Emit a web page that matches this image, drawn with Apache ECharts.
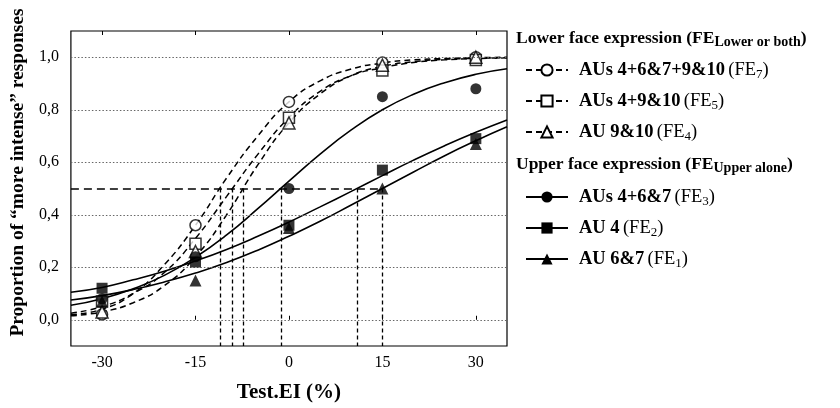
<!DOCTYPE html>
<html>
<head>
<meta charset="utf-8">
<script src="https://cdn.jsdelivr.net/npm/echarts@6/dist/echarts.min.js"></script>
<style>
  html, body { margin: 0; padding: 0; background: #fff; }
  #chart { width: 840px; height: 408px; }
</style>
</head>
<body>
<div id="chart"></div>
<script>
// observed proportions at each Test.EI level
const xPoints = [-30, -15, 0, 15, 30]
const fe7Points = [0.02, 0.36, 0.83, 0.98, 1.0]
const fe5Points = [0.07, 0.29, 0.77, 0.95, 0.99]
const fe4Points = [0.03, 0.26, 0.75, 0.97, 1.0]
const fe3Points = [0.08, 0.24, 0.50, 0.85, 0.88]
const fe2Points = [0.12, 0.22, 0.36, 0.57, 0.69]
const fe1Points = [0.07, 0.15, 0.35, 0.50, 0.67]

// fitted curves
const xCurve = [-35, -30, -25, -20, -15, -10, -5, 0, 5, 10, 15, 20, 25, 30, 35]
const fe7Curve = [0.02, 0.04, 0.10, 0.21, 0.36, 0.54, 0.70, 0.83, 0.91, 0.955, 0.978, 0.99, 0.995, 0.998, 1.0]
const fe5Curve = [0.025, 0.05, 0.10, 0.18, 0.31, 0.47, 0.63, 0.77, 0.87, 0.93, 0.96, 0.98, 0.99, 0.995, 0.998]
const fe4Curve = [0.015, 0.03, 0.065, 0.13, 0.24, 0.40, 0.59, 0.75, 0.86, 0.93, 0.965, 0.983, 0.992, 0.996, 0.998]
const fe3Curve = [0.055, 0.08, 0.118, 0.169, 0.238, 0.323, 0.423, 0.528, 0.631, 0.723, 0.80, 0.859, 0.903, 0.935, 0.956]
const fe2Curve = [0.105, 0.123, 0.152, 0.185, 0.224, 0.268, 0.318, 0.372, 0.43, 0.489, 0.549, 0.608, 0.663, 0.714, 0.761]
const fe1Curve = [0.075, 0.092, 0.115, 0.144, 0.178, 0.218, 0.265, 0.318, 0.375, 0.437, 0.50, 0.563, 0.625, 0.682, 0.735]

// 50% points (PSE) for each expression
const pseValues = [-11.1, -9.1, -7.3, -1.3, 10.9, 15]

const xTicks = [-30, -15, 0, 15, 30]
const yTicks = [0, 0.2, 0.4, 0.6, 0.8, 1.0]

const legendText = {
  FE7: ['AUs 4+6&7+9&10', '7'],
  FE5: ['AUs 4+9&10', '5'],
  FE4: ['AU 9&10', '4'],
  FE3: ['AUs 4+6&7', '3'],
  FE2: ['AU 4', '2'],
  FE1: ['AU 6&7', '1']
}

const serif = 'Liberation Serif'
const chart = echarts.init(document.getElementById('chart'))

function zip(xs, ys) {
  return xs.map((x, i) => [x, ys[i]])
}

function curve(name, ys, dashed, symbol) {
  return {
    name: name,
    type: 'line',
    data: zip(xCurve, ys),
    smooth: true,
    symbol: symbol,
    symbolSize: 11,
    showSymbol: false,
    itemStyle: { color: '#000' },
    lineStyle: dashed
      ? { color: '#000', width: 1.5, type: [6, 4] }
      : { color: '#000', width: 1.6, type: 'solid' },
    silent: true,
    z: 3
  }
}

function points(name, ys, symbol, open) {
  return {
    name: name,
    type: 'scatter',
    data: zip(xPoints, ys),
    symbol: symbol,
    symbolSize: symbol === 'triangle' ? 12 : 11,
    itemStyle: open
      ? { color: '#fff', borderColor: '#000', borderWidth: 1.5 }
      : { color: '#000', borderColor: '#000', borderWidth: 0 },
    silent: true,
    z: open ? 4 : 5
  }
}

const legendRich = {
  b: { fontFamily: serif, fontWeight: 'bold', fontSize: 18.5, color: '#000' },
  n: { fontFamily: serif, fontSize: 18.5, color: '#000' },
  s: { fontFamily: serif, fontSize: 13, color: '#000', padding: [9, 0, 0, 0] }
}

function legendBlock(top, names) {
  return {
    data: names,
    orient: 'vertical',
    left: 520,
    top: top,
    itemWidth: 42,
    itemHeight: 14,
    itemGap: 10,
    selectedMode: false,
    formatter: function (name) {
      const t = legendText[name]
      return '{b|' + t[0] + '} {n|(FE}{s|' + t[1] + '}{n|)}'
    },
    textStyle: { padding: [0, 0, 0, 6], lineHeight: 20, rich: legendRich }
  }
}

const headRich = {
  h: { fontFamily: serif, fontWeight: 'bold', fontSize: 17.5, color: '#000' },
  s: { fontFamily: serif, fontWeight: 'bold', fontSize: 14, color: '#000', padding: [8, 0, 0, 0] }
}

chart.setOption({
  animation: false,
  backgroundColor: '#fff',
  title: [
    {
      text: '{h|Lower face expression (FE}{s|Lower or both}{h|)}',
      left: 516,
      top: 27,
      padding: 0,
      textStyle: { rich: headRich }
    },
    {
      text: '{h|Upper face expression (FE}{s|Upper alone}{h|)}',
      left: 516,
      top: 153,
      padding: 0,
      textStyle: { rich: headRich }
    }
  ],
  legend: [
    legendBlock(55, ['FE7', 'FE5', 'FE4']),
    legendBlock(182, ['FE3', 'FE2', 'FE1'])
  ],
  grid: {
    left: 68,
    right: 333,
    top: 31,
    bottom: 61,
    show: true,
    borderColor: '#000',
    borderWidth: 1.2,
    backgroundColor: 'transparent'
  },
  xAxis: [
    {
      type: 'value',
      min: -35,
      max: 35,
      name: 'Test.EI (%)',
      nameLocation: 'middle',
      nameGap: 36,
      nameTextStyle: { fontFamily: serif, fontWeight: 'bold', fontSize: 21, color: '#000' },
      axisLine: { show: false },
      axisTick: { show: true, inside: true, length: 4, customValues: xTicks, lineStyle: { color: '#000' } },
      axisLabel: { customValues: xTicks, fontFamily: serif, fontSize: 16, color: '#000', margin: 9 },
      splitLine: { show: false }
    },
    {
      type: 'value',
      position: 'top',
      min: -35,
      max: 35,
      axisLine: { show: false },
      axisTick: { show: true, inside: true, length: 4, customValues: xTicks, lineStyle: { color: '#000' } },
      axisLabel: { show: false },
      splitLine: { show: false }
    }
  ],
  yAxis: {
    type: 'value',
    min: -0.1,
    max: 1.1,
    name: 'Proportion of \u201cmore intense\u201d responses',
    nameLocation: 'middle',
    nameGap: 38,
    nameTextStyle: { fontFamily: serif, fontWeight: 'bold', fontSize: 19.5, color: '#000', padding: [0, 0, 0, 32] },
    axisLine: { show: false },
    axisTick: { show: false },
    axisLabel: {
      customValues: yTicks,
      fontFamily: serif,
      fontSize: 16,
      color: '#000',
      margin: 12,
      formatter: v => v.toFixed(1).replace('.', ',')
    },
    splitLine: { show: false }
  },
  series: [
    curve('FE7', fe7Curve, true, 'emptyCircle'),
    curve('FE5', fe5Curve, true, 'emptyRect'),
    curve('FE4', fe4Curve, true, 'emptyTriangle'),
    curve('FE3', fe3Curve, false, 'circle'),
    curve('FE2', fe2Curve, false, 'rect'),
    curve('FE1', fe1Curve, false, 'triangle'),
    points('FE7', fe7Points, 'circle', true),
    points('FE5', fe5Points, 'rect', true),
    points('FE4', fe4Points, 'triangle', true),
    points('FE3', fe3Points, 'circle', false),
    points('FE2', fe2Points, 'rect', false),
    points('FE1', fe1Points, 'triangle', false),
    {
      name: 'grid',
      type: 'line',
      data: [],
      silent: true,
      z: 1,
      markLine: {
        silent: true,
        symbol: 'none',
        label: { show: false },
        lineStyle: { color: '#666', width: 1, type: [1.5, 2] },
        data: yTicks.map(v => ({ yAxis: v }))
      }
    },
    {
      name: 'pse',
      type: 'line',
      data: [],
      silent: true,
      z: 2,
      markLine: {
        silent: true,
        symbol: 'none',
        label: { show: false },
        data: [
          [
            { coord: [-35, 0.5], lineStyle: { color: '#000', width: 1.5, type: [8, 5] } },
            { coord: [Math.max(...pseValues), 0.5] }
          ]
        ].concat(pseValues.map(x => [
          { coord: [x, 0.5], lineStyle: { color: '#000', width: 1.3, type: [4, 3] } },
          { coord: [x, -0.1] }
        ]))
      }
    }
  ]
})
</script>
</body>
</html>
